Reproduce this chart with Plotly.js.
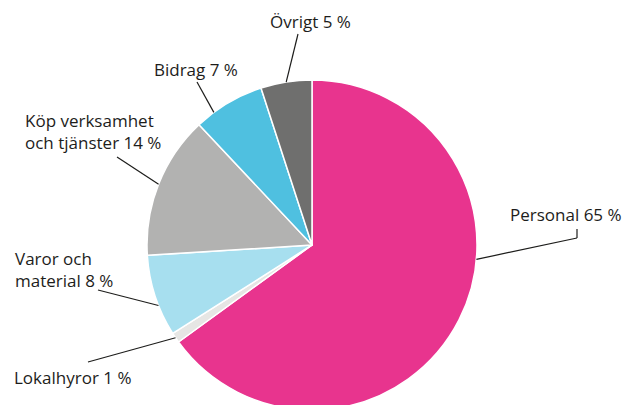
<!DOCTYPE html>
<html>
<head>
<meta charset="utf-8">
<script src="https://cdn.plot.ly/plotly-3.0.1.min.js"></script>
<style>
  html, body { margin: 0; padding: 0; background: #fff; overflow: hidden; }
  #wrap { width: 623px; height: 405px; overflow: hidden; position: relative; }
  #chart { width: 623px; height: 420px; }
</style>
</head>
<body>
<div id="wrap"><div id="chart"></div></div>
<script>
// ---- data ----
const categories = ['Personal', 'Lokalhyror', 'Varor och<br>material', 'Köp verksamhet<br>och tjänster', 'Bidrag', 'Övrigt'];
const values = [65, 1, 8, 14, 7, 5];
const colors = ['#E8348E', '#E6E6E4', '#A7DFEF', '#B2B2B1', '#4FC0E0', '#6F6F6E'];

// ---- layout config (pixels) ----
const W = 623, H = 420;
const cx = 312, cy = 245, R = 165;
// text left / vertical middle positions
const labelPos = [[508, 214], [12, 377], [13, 269], [23, 131], [152, 70], [268, 21]];
// leader line outer ends (pixel); optional elbow
const lineEnd = [[577, 238], [88, 362], [98, 290], [117, 157], [197, 82], [298, 34]];
const lineElbow = [[577, 229], null, null, null, null, null];
// optional start-angle overrides (degrees clockwise from 12 o'clock)
const angleOverride = [95, null, 248.5, null, 323.5, null];

const px = x => x / W;
const py = y => 1 - y / H;

const total = values.reduce((a, b) => a + b, 0);
let cum = 0;
const shapes = [];
const annotations = [];
values.forEach((v, i) => {
  const mid = (cum + v / 2) / total * 360;
  cum += v;
  const ang = (angleOverride[i] != null ? angleOverride[i] : mid) * Math.PI / 180;
  const sx = cx + R * Math.sin(ang), sy = cy - R * Math.cos(ang);
  const [ex, ey] = lineEnd[i];
  shapes.push({type: 'line', xref: 'paper', yref: 'paper', x0: px(sx), y0: py(sy), x1: px(ex), y1: py(ey),
    line: {color: '#1d1d1b', width: 1.2}});
  if (lineElbow[i]) {
    shapes.push({type: 'line', xref: 'paper', yref: 'paper', x0: px(ex), y0: py(ey), x1: px(lineElbow[i][0]), y1: py(lineElbow[i][1]),
      line: {color: '#1d1d1b', width: 1.2}});
  }
  annotations.push({
    xref: 'paper', yref: 'paper', x: px(labelPos[i][0]), y: py(labelPos[i][1]),
    xanchor: 'left', yanchor: 'middle', align: 'left', showarrow: false,
    text: categories[i] + ' ' + v + ' %',
    font: {family: 'Open Sans, sans-serif', size: 17, color: '#1d1d1b'}
  });
});

const trace = {
  type: 'pie',
  labels: categories,
  values: values,
  sort: false,
  direction: 'clockwise',
  rotation: 0,
  textinfo: 'none',
  hoverinfo: 'skip',
  marker: {colors: colors, line: {color: '#ffffff', width: 1.5}},
  domain: {x: [px(cx - R), px(cx + R)], y: [py(cy + R), py(cy - R)]},
  showlegend: false
};

Plotly.newPlot('chart', [trace], {
  width: W, height: H,
  margin: {l: 0, r: 0, t: 0, b: 0},
  paper_bgcolor: '#ffffff',
  showlegend: false,
  shapes: shapes,
  annotations: annotations
}, {displayModeBar: false, staticPlot: true});
</script>
</body>
</html>
